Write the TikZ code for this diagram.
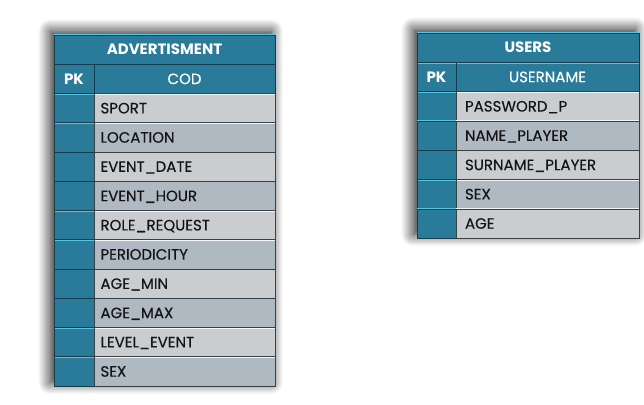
\documentclass[tikz,border=0pt]{standalone}
\usepackage{fontspec}
\setmainfont{Poppins}
\newfontfamily\medfont{Poppins}[FakeBold=0.35]
\usetikzlibrary{shadows.blur}
\definecolor{teal1}{HTML}{2A7A9A}
\definecolor{tealhi}{HTML}{55C6E2}
\definecolor{tealdk}{HTML}{173C4C}
\definecolor{rowA}{HTML}{C9CDCF}
\definecolor{rowB}{HTML}{AEB9C2}
\definecolor{rowhi}{HTML}{F4F7F8}
\definecolor{rowdk}{HTML}{3A3F44}
\tikzset{
  cellbase/.style={anchor=north west, inner sep=0pt, outer sep=0pt, font=\fontsize{15}{17}\medfont,
    path picture={
      \draw[line width=2.4pt,#1] (path picture bounding box.south west) -- (path picture bounding box.north west) -- (path picture bounding box.north east);
    }},
  tealcell/.style={cellbase=tealhi, fill=teal1, text=white, draw=tealdk, line width=0.6pt},
  hdrcell/.style={tealcell, font=\fontsize{15}{17}\selectfont\rmfamily\bfseries},
  graycell/.style={cellbase=rowhi, draw=rowdk, line width=0.6pt, text=black!92, align=left, text depth=0pt},
  rowa/.style={graycell, fill=rowA},
  rowb/.style={graycell, fill=rowB},
  tablebg/.style={fill=white, blur shadow={shadow xshift=-4pt, shadow yshift=4pt, shadow blur radius=12pt, shadow opacity=90, shadow blur steps=14}},
}
\begin{document}
\begin{tikzpicture}[x=1pt,y=-1pt]
\useasboundingbox (0,0) rectangle (644,404);
% ---------------- ADVERTISMENT ----------------
\def\rh{29.25}
\node[tablebg, anchor=north west, minimum width=221pt, minimum height=351pt, inner sep=0pt] (advbg) at (54,35) {};
\node[hdrcell, minimum width=221pt, minimum height=\rh pt] (advh) at (54,35) {ADVERTISMENT};
\node[hdrcell, minimum width=40pt, minimum height=\rh pt] (advpk) at (54,35+\rh) {PK};
\node[tealcell, minimum width=181pt, minimum height=\rh pt] (advcod) at (94,35+\rh) {COD};
\foreach \i/\t/\s in {2/SPORT/rowa,3/LOCATION/rowb,4/EVENT\_DATE/rowa,5/EVENT\_HOUR/rowb,6/ROLE\_REQUEST/rowa,7/PERIODICITY/rowb,8/AGE\_MIN/rowa,9/AGE\_MAX/rowb,10/LEVEL\_EVENT/rowa,11/SEX/rowb}{
  \node[tealcell, minimum width=40pt, minimum height=\rh pt] (advk\i) at (54,35+\i*\rh) {};
  \node[\s, minimum width=181pt, minimum height=\rh pt, text width=168pt] (advf\i) at (94,35+\i*\rh) {\t};
}
% ---------------- USERS ----------------
\def\rr{29.3}
\node[tablebg, anchor=north west, minimum width=222pt, minimum height=205pt, inner sep=0pt] (usrbg) at (417,33) {};
\node[hdrcell, minimum width=222pt, minimum height=\rr pt] (usrh) at (417,33) {USERS};
\node[hdrcell, minimum width=39pt, minimum height=\rr pt] (usrpk) at (417,33+\rr) {PK};
\node[tealcell, minimum width=183pt, minimum height=\rr pt] (usrname) at (456,33+\rr) {USERNAME};
\foreach \i/\t/\s in {2/PASSWORD\_P/rowa,3/NAME\_PLAYER/rowb,4/SURNAME\_PLAYER/rowa,5/SEX/rowb,6/AGE/rowa}{
  \node[tealcell, minimum width=39pt, minimum height=\rr pt] (usrk\i) at (417,33+\i*\rr) {};
  \node[\s, minimum width=183pt, minimum height=\rr pt, text width=165pt] (usrf\i) at (456,33+\i*\rr) {\t};
}
\end{tikzpicture}
\end{document}
